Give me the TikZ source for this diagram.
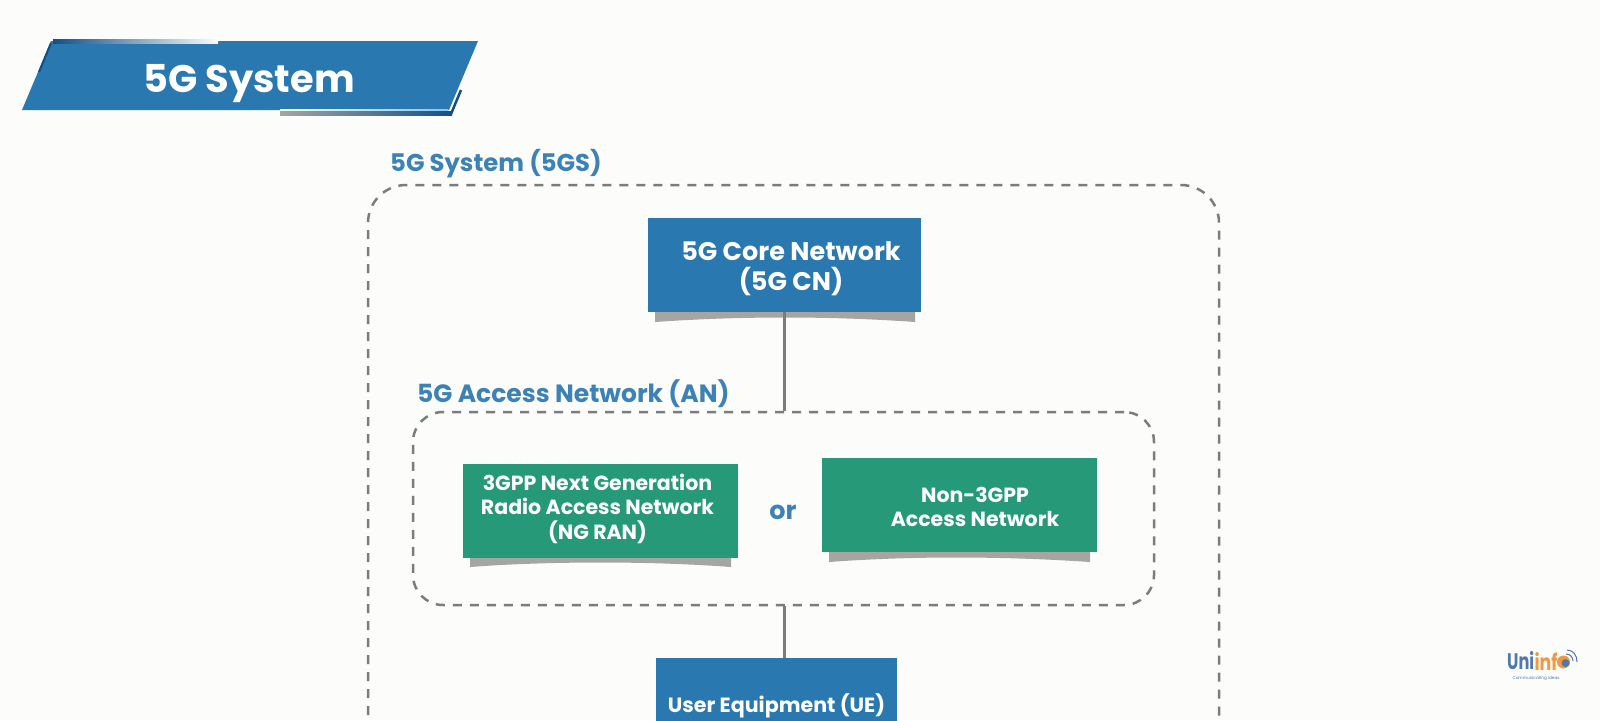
\documentclass[tikz,border=0pt]{standalone}
\usepackage{fontspec}
\setmainfont{Poppins}
\definecolor{pagebg}{HTML}{FCFCFA}
\definecolor{boxblue}{HTML}{2A78B0}
\definecolor{boxgreen}{HTML}{269A78}
\definecolor{labelblue}{HTML}{3C82B6}
\definecolor{dashgray}{HTML}{7C7C7E}
\definecolor{shadowgray}{HTML}{A5A5A3}
\definecolor{darkblue}{HTML}{134F86}
\definecolor{paleblue}{HTML}{8CC4E8}
\definecolor{logoblue}{HTML}{4F78AE}
\definecolor{logoorange}{HTML}{EE9A45}
\tikzset{
  blockbox/.style={minimum width=#1, minimum height=94pt, inner sep=0pt, align=center, text=white, font=\bfseries\fontsize{25.5}{30}\selectfont},
  bluebox/.style={blockbox=273pt, fill=boxblue},
  greenbox/.style={blockbox=275pt, fill=boxgreen, font=\bfseries\fontsize{20.5}{24.5}\selectfont},
  zone/.style={draw=dashgray, line width=2.5pt, dash pattern=on 9pt off 8pt},
  zonelabel/.style={text=labelblue, font=\bfseries\fontsize{24.3}{28}\selectfont, inner sep=0pt},
  link/.style={draw=dashgray, line width=3.5pt},
  lift/.style={fill=shadowgray},
  logotext/.style={anchor=west, inner sep=0pt, font=\bfseries}
}
\begin{document}
\begin{tikzpicture}[x=1pt,y=-1pt]
\useasboundingbox (0,0) rectangle (1600,720);
\clip (0,0) rectangle (1600,720);
\fill[pagebg] (0,0) rectangle (1600,720);

% title banner
\fill[boxblue] (51,41) -- (478,41) -- (449,110) -- (22,110) -- cycle;
\shade[left color=darkblue, right color=pagebg] (53,39) rectangle (218,43);
\draw[darkblue, line width=2pt] (39,72) -- (51,43);
\shade[left color=pagebg, right color=paleblue] (280,109) rectangle (448,111);
\shade[left color=shadowgray, right color=darkblue] (280,111) rectangle (452,115);
\draw[darkblue, line width=2.5pt] (451,114) -- (461,90);
\node[text=white, font=\bfseries\fontsize{38.4}{44}\selectfont, inner sep=0pt] (title) at (249,84) {5G System};

% zones
\node[zonelabel, anchor=west] (syslabel) at (390,164) {5G System (5GS)};
\draw[zone, rounded corners=38pt] (368,800) -- (368,185) -- (1219,185) -- (1219,800);
\node[zonelabel, font=\bfseries\fontsize{25}{28}\selectfont, anchor=west] (anlabel) at (417,394) {5G Access Network (AN)};
\node[zone, rounded corners=30pt, minimum width=741pt, minimum height=193pt, inner sep=0pt] (an) at (783.5,508.5) {};

% paper-lift shadows
\fill[lift] (655,310) -- (915,310) -- (915,322) .. controls (830,316) and (740,316) .. (655,322) -- cycle;
\fill[lift] (470,555) -- (731,555) -- (731,567) .. controls (650,561) and (550,561) .. (470,567) -- cycle;
\fill[lift] (829,550) -- (1090,550) -- (1090,562) .. controls (1000,556) and (910,556) .. (829,562) -- cycle;

% blocks
\node[bluebox, text height=55pt, text depth=5pt] (core) at (784.5,265) {\hspace*{13pt}5G Core Network\\\hspace*{13pt}(5G CN)};
\node[greenbox, text height=62pt, text depth=5pt] (ngran) at (600.5,510.5) {\hspace*{-6pt}3GPP Next Generation\\\hspace*{-6pt}Radio Access Network\\\hspace*{-6pt}(NG RAN)};
\node[greenbox, text height=48pt, text depth=5pt] (non) at (959.5,505) {\hspace*{31pt}Non-3GPP\\\hspace*{31pt}Access Network};
\node[text=labelblue, font=\bfseries\fontsize{25.5}{28}\selectfont, inner sep=0pt] (ortext) at (783,512) {or};
\node[bluebox, minimum width=241pt, font=\bfseries\fontsize{20.6}{24}\selectfont, text height=20pt, text depth=6pt] (ue) at (776.5,705) {User Equipment (UE)};

% connectors
\draw[link] (core.south) -- (core.south |- an.north);
\draw[link] (core.south |- an.south) -- (core.south |- ue.north);

% logo
\node[logotext, text=logoblue] (uni) at (1507,661) {\resizebox{27pt}{18pt}{Uni}};
\node[logotext, text=logoorange] (info) at (uni.east) {\resizebox{23pt}{18pt}{inf}};
\fill[logoorange] (1563.5,662) circle (6.5pt);
\fill[logoblue] (1565.5,663) circle (4pt);
\draw[logoblue, line width=1pt] (1566,654) .. controls (1570,654) and (1573,657) .. (1573,661);
\draw[logoblue, line width=1pt] (1567,650) .. controls (1573,650) and (1577,655) .. (1577,662);
\node[inner sep=0pt, text=logoblue, font=\fontsize{5}{5}\selectfont] (tagline) at (1536,678) {\resizebox{47pt}{!}{Communicating ideas}};
\end{tikzpicture}
\end{document}
